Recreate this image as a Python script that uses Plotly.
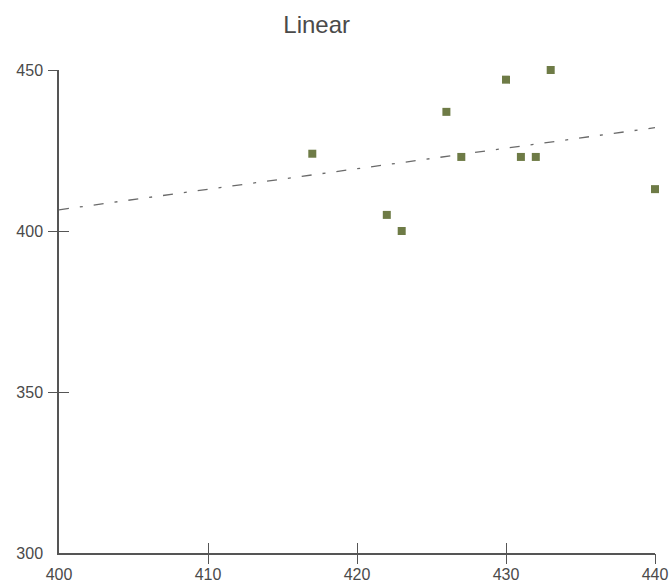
import numpy as np
import plotly.graph_objects as go

# data
x_vals = [417, 422, 423, 426, 427, 430, 431, 432, 433, 440]
y_vals = [424, 405, 400, 437, 423, 447, 423, 423, 450, 413]
x_ticks = [400, 410, 420, 430, 440]
y_ticks = [300, 350, 400, 450]
x_range = [400, 440]
y_range = [300, 450]
title_text = "Linear"

slope, intercept = np.polyfit(x_vals, y_vals, 1)
trend_x = np.array(x_range, dtype=float)
trend_y = slope * trend_x + intercept

AX = "#555555"
TXT = "#4a4a4a"
FONT = "Liberation Sans, Arial, sans-serif"

fig = go.Figure()
fig.add_trace(go.Scatter(x=trend_x, y=trend_y, mode="lines",
                         line=dict(color="#6a6a6a", width=1.3, dash="10px,11px,3px,11px"),
                         hoverinfo="skip", showlegend=False, cliponaxis=False))
fig.add_trace(go.Scatter(x=x_vals, y=y_vals, mode="markers",
                         marker=dict(symbol="square", size=8, color="#6e7b46", line=dict(width=0)),
                         showlegend=False, cliponaxis=False))
# invisible traces to hold the tick-overlay axes
fig.add_trace(go.Scatter(x=[None], y=[None], xaxis="x2", yaxis="y2", showlegend=False))
fig.add_trace(go.Scatter(x=[None], y=[None], xaxis="x3", yaxis="y3", showlegend=False))

common = dict(showgrid=False, zeroline=False, automargin=False)
fig.update_layout(
    width=672, height=583,
    margin=dict(l=58.5, r=16.5, t=70, b=29.7, pad=0),
    paper_bgcolor="white", plot_bgcolor="white",
    font=dict(family=FONT, color=TXT, size=16),
    title=dict(text=title_text, x=316.7 / 672, xanchor="center", xref="container",
               y=1 - 25 / 583, yanchor="middle", yref="container",
               font=dict(size=24, color=TXT, family=FONT)),
    xaxis=dict(range=x_range, tickvals=x_ticks, ticks="", showline=True,
               linecolor=AX, linewidth=1.5, ticklabelstandoff=6,
               tickfont=dict(size=16, color=TXT), **common),
    yaxis=dict(range=y_range, tickvals=y_ticks, ticks="", showline=True,
               linecolor=AX, linewidth=1.5, ticklabelstandoff=11,
               tickfont=dict(size=16, color=TXT), **common),
    xaxis2=dict(range=x_range, overlaying="x", anchor="y", tickvals=x_ticks[1:],
                ticks="outside", ticklen=10, tickwidth=1.2, tickcolor=AX,
                showticklabels=False, showline=False, **common),
    yaxis2=dict(range=y_range, overlaying="y", anchor="x", tickvals=y_ticks[1:],
                ticks="outside", ticklen=10, tickwidth=1.2, tickcolor=AX,
                showticklabels=False, showline=False, **common),
    xaxis3=dict(range=x_range, overlaying="x", anchor="y", tickvals=x_ticks[1:],
                ticks="inside", ticklen=10, tickwidth=1.2, tickcolor=AX,
                showticklabels=False, showline=False, **common),
    yaxis3=dict(range=y_range, overlaying="y", anchor="x", tickvals=y_ticks[1:],
                ticks="inside", ticklen=10, tickwidth=1.2, tickcolor=AX,
                showticklabels=False, showline=False, **common),
)

fig.write_html("out.html", config={"displayModeBar": False},
               post_script="document.body.style.margin='0';document.body.style.overflow='hidden';")
